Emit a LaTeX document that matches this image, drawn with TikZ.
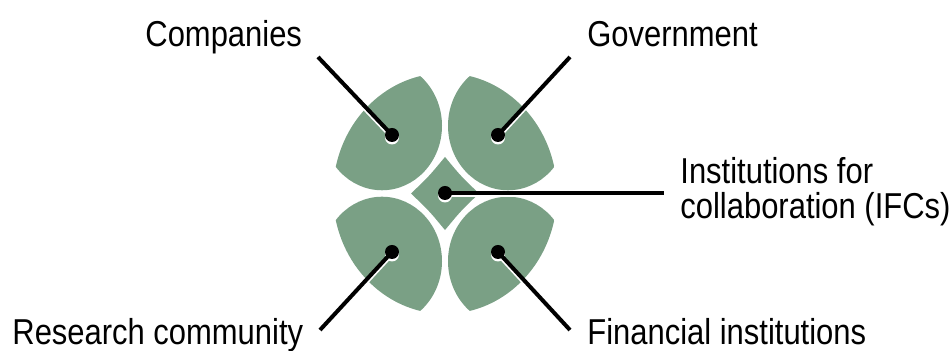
\documentclass[tikz,border=0pt]{standalone}
\usepackage{fontspec}
\setmainfont{Liberation Sans}[FakeStretch=0.86]
\usetikzlibrary{positioning}
\definecolor{sage}{RGB}{122,160,133}
\pgfdeclarelayer{leaves}
\pgfdeclarelayer{glint}
\pgfsetlayers{leaves,glint,main}

\begin{document}
\begin{tikzpicture}[x=0.5pt,y=-0.5pt]
\tikzstyle{leaf}=[fill=sage]
\tikzstyle{hub}=[circle, fill=black, inner sep=0pt, minimum size=7pt]
\tikzstyle{leader}=[line width=2pt]
\tikzstyle{glow}=[white, line width=2pt]
\tikzstyle{actor}=[inner sep=0pt, font=\fontsize{18}{17.5}\selectfont]
\useasboundingbox (0,0) rectangle (950,351);

\begin{pgfonlayer}{leaves}
\begin{scope}[shift={(445,193.5)}, yscale=1.075]
\foreach \sx/\sy in {-1/-1,1/-1,-1/1,1/1} {
  \begin{scope}
    \clip (0,0) circle (112);
    \fill[leaf] (\sx*63,\sy*63) circle (60);
  \end{scope}
}
\fill[leaf] (0,-34) .. controls (-16,-16) .. (-34,0) .. controls (-16,16) .. (0,34)
  .. controls (16,16) .. (34,0) .. controls (16,-16) .. cycle;
\end{scope}
\end{pgfonlayer}

\node[hub] (comp) at (392,135) {};
\node[hub] (gov) at (498,135) {};
\node[hub] (ifc) at (445,193) {};
\node[hub] (res) at (392,252) {};
\node[hub] (fin) at (498,252) {};

\coordinate (comp-end) at (318,57);
\coordinate (gov-end) at (570,57);
\coordinate (ifc-end) at (664,193);
\coordinate (res-end) at (320,330);
\coordinate (fin-end) at (570,330);

\node[actor,anchor=base west] (comp-text) at (145,47) {Companies};
\node[actor,anchor=base west] (gov-text) at (587,47) {Government};
\node[actor,anchor=north west,align=left] (ifc-text) at (680,157) {Institutions for\\collaboration (IFCs)};
\node[actor,anchor=base west] (res-text) at (12,345) {Research community};
\node[actor,anchor=base west] (fin-text) at (587,345) {Financial institutions};

\foreach \a in {comp,gov,ifc,res,fin}
  \draw[leader] (\a.center) -- (\a-end);

\begin{pgfonlayer}{glint}
\foreach \a in {comp,gov,ifc,res,fin} {
  \fill[white] ([yshift=-1.25pt]\a.center) circle (3.5pt);
  \draw[glow] ([yshift=-1.25pt]\a.center) -- ([yshift=-1.25pt]\a-end);
}
\end{pgfonlayer}

\end{tikzpicture}
\end{document}
